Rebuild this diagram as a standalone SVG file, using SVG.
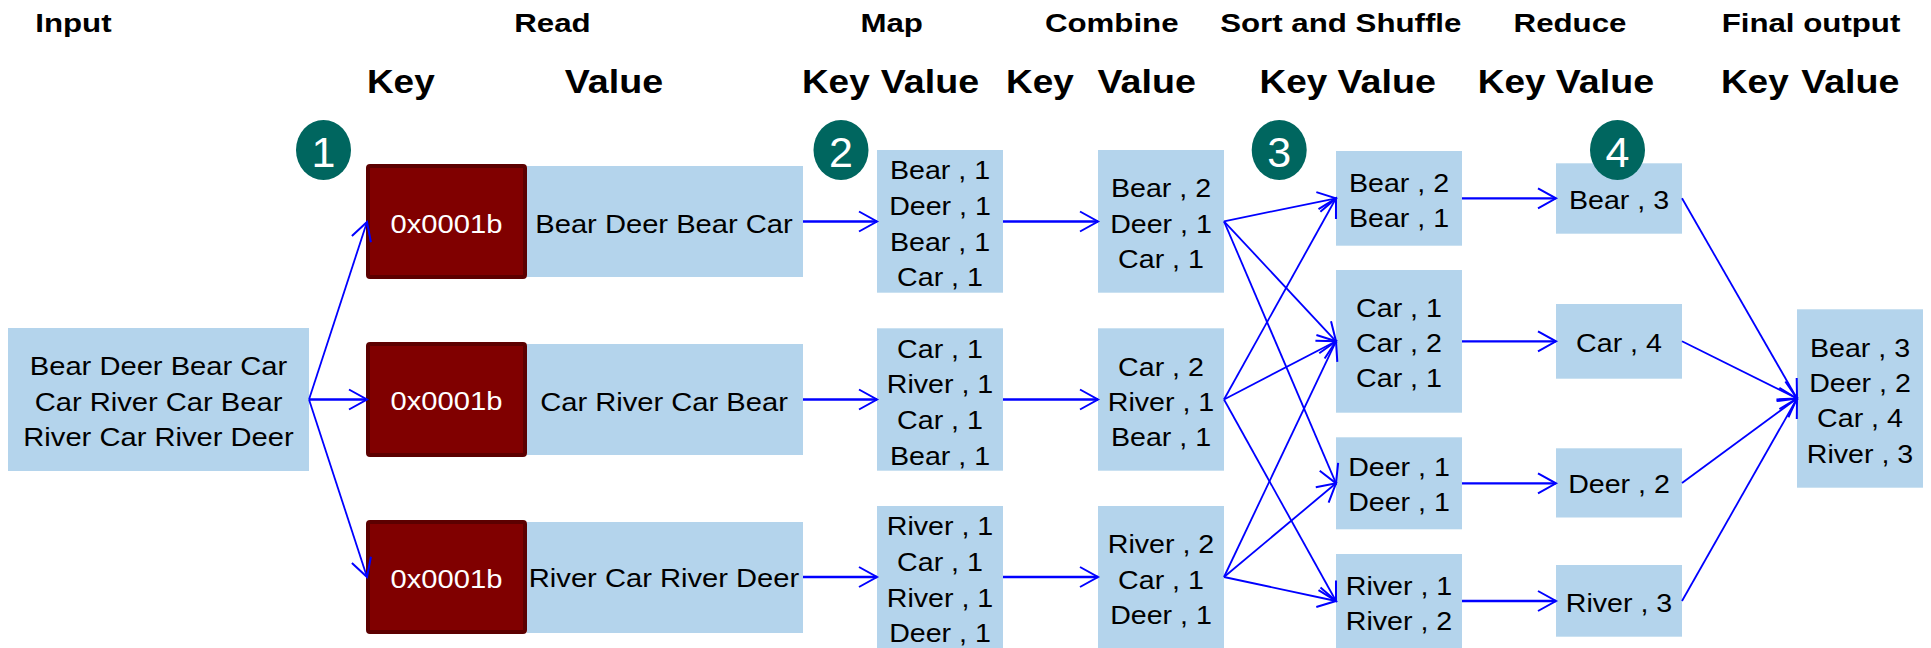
<svg xmlns="http://www.w3.org/2000/svg" width="1931" height="648" viewBox="0 0 1931 648">
<style>
.h1{font-family:'Liberation Sans',Arial,sans-serif;font-weight:bold;font-size:25px;text-anchor:middle;fill:#000}
.h2{font-family:'Liberation Sans',Arial,sans-serif;font-weight:bold;font-size:33px;text-anchor:middle;fill:#000}
.t{font-family:'Liberation Sans',Arial,sans-serif;font-size:26px;text-anchor:middle;fill:#000}
.tv{font-family:'Liberation Sans',Arial,sans-serif;font-size:26.5px;text-anchor:middle;fill:#000}
.k{font-family:'Liberation Sans',Arial,sans-serif;font-size:26.5px;text-anchor:middle;fill:#fff}
.n{font-family:'Liberation Sans',Arial,sans-serif;font-size:43px;text-anchor:middle;fill:#fff}
.box{fill:#b4d4ec}
.key{fill:#800000;stroke:#5c0000;stroke-width:4}
.circ{fill:#00665f}
.c{stroke:#0000ff;stroke-width:1.8;fill:none;marker-end:url(#ah)}
.ch{stroke:#0000ff;stroke-width:2.3;fill:none;marker-end:url(#ah)}
</style>
<defs>
<marker id="ah" markerUnits="userSpaceOnUse" markerWidth="24" markerHeight="24" viewBox="-20 -12 24 24" refX="0" refY="0" orient="auto" overflow="visible">
<path d="M-18,-10 L0,0 L-18,10" fill="none" stroke="#0000ff" stroke-width="2"/>
</marker>
</defs>
<rect width="1931" height="648" fill="#fff"/>

<g id="headers">
<g transform="translate(73.4 0) scale(1.25 1)"><text class="h1" x="0" y="32.3">Input</text></g>
<g transform="translate(552.5 0) scale(1.25 1)"><text class="h1" x="0" y="32.3">Read</text></g>
<g transform="translate(891.7 0) scale(1.25 1)"><text class="h1" x="0" y="32.3">Map</text></g>
<g transform="translate(1111.7 0) scale(1.25 1)"><text class="h1" x="0" y="32.3">Combine</text></g>
<g transform="translate(1340.8 0) scale(1.25 1)"><text class="h1" x="0" y="32.3">Sort and Shuffle</text></g>
<g transform="translate(1570 0) scale(1.25 1)"><text class="h1" x="0" y="32.3">Reduce</text></g>
<g transform="translate(1811 0) scale(1.25 1)"><text class="h1" x="0" y="32.3">Final output</text></g>

<g transform="translate(400.8 0) scale(1.12 1)"><text class="h2" x="0" y="93.3">Key</text></g>
<g transform="translate(614 0) scale(1.14 1)"><text class="h2" x="0" y="93.3">Value</text></g>
<g transform="translate(835.8 0) scale(1.12 1)"><text class="h2" x="0" y="93.3">Key</text></g>
<g transform="translate(930 0) scale(1.14 1)"><text class="h2" x="0" y="93.3">Value</text></g>
<g transform="translate(1040 0) scale(1.12 1)"><text class="h2" x="0" y="93.3">Key</text></g>
<g transform="translate(1146.7 0) scale(1.14 1)"><text class="h2" x="0" y="93.3">Value</text></g>
<g transform="translate(1293.5 0) scale(1.12 1)"><text class="h2" x="0" y="93.3">Key</text></g>
<g transform="translate(1386.7 0) scale(1.14 1)"><text class="h2" x="0" y="93.3">Value</text></g>
<g transform="translate(1511.7 0) scale(1.12 1)"><text class="h2" x="0" y="93.3">Key</text></g>
<g transform="translate(1605 0) scale(1.14 1)"><text class="h2" x="0" y="93.3">Value</text></g>
<g transform="translate(1754.8 0) scale(1.12 1)"><text class="h2" x="0" y="93.3">Key</text></g>
<g transform="translate(1850.3 0) scale(1.14 1)"><text class="h2" x="0" y="93.3">Value</text></g>
</g>

<g id="input">
<rect class="box" x="8" y="328" width="301" height="143"/>
<g transform="translate(158.5 0) scale(1.1 1)">
<text class="tv" x="0" y="375">Bear Deer Bear Car</text>
<text class="tv" x="0" y="410.7">Car River Car Bear</text>
<text class="tv" x="0" y="446">River Car River Deer</text>
</g>
</g>

<g id="read-key-1"><rect class="key" x="368" y="166" width="157" height="111" rx="2"/><g transform="translate(446.5 0) scale(1.1 1)"><text class="k" x="0" y="232.7">0x0001b</text></g></g>
<g id="read-key-2"><rect class="key" x="368" y="344" width="157" height="111" rx="2"/><g transform="translate(446.5 0) scale(1.1 1)"><text class="k" x="0" y="410.2">0x0001b</text></g></g>
<g id="read-key-3"><rect class="key" x="368" y="522" width="157" height="110" rx="2"/><g transform="translate(446.5 0) scale(1.1 1)"><text class="k" x="0" y="588">0x0001b</text></g></g>

<g id="read-value-1"><rect class="box" x="527" y="166" width="276" height="111"/><g transform="translate(664 0) scale(1.1 1)"><text class="tv" x="0" y="232.7">Bear Deer Bear Car</text></g></g>
<g id="read-value-2"><rect class="box" x="527" y="344" width="276" height="111"/><g transform="translate(664 0) scale(1.1 1)"><text class="tv" x="0" y="410.7">Car River Car Bear</text></g></g>
<g id="read-value-3"><rect class="box" x="527" y="522" width="276" height="111"/><g transform="translate(664 0) scale(1.1 1)"><text class="tv" x="0" y="587.3">River Car River Deer</text></g></g>

<g id="map-1"><rect class="box" x="877" y="150" width="126" height="142.7"/><g transform="translate(940 0) scale(1.1 1)">
<text class="t" x="0" y="179.3">Bear , 1</text><text class="t" x="0" y="215">Deer , 1</text><text class="t" x="0" y="250.7">Bear , 1</text><text class="t" x="0" y="286.3">Car , 1</text></g></g>
<g id="map-2"><rect class="box" x="877" y="328.3" width="126" height="142.4"/><g transform="translate(940 0) scale(1.1 1)">
<text class="t" x="0" y="357.6">Car , 1</text><text class="t" x="0" y="393.3">River , 1</text><text class="t" x="0" y="429">Car , 1</text><text class="t" x="0" y="464.6">Bear , 1</text></g></g>
<g id="map-3"><rect class="box" x="877" y="506" width="126" height="142"/><g transform="translate(940 0) scale(1.1 1)">
<text class="t" x="0" y="535.3">River , 1</text><text class="t" x="0" y="571">Car , 1</text><text class="t" x="0" y="606.7">River , 1</text><text class="t" x="0" y="642.3">Deer , 1</text></g></g>

<g id="combine-1"><rect class="box" x="1098" y="150" width="126" height="142.7"/><g transform="translate(1161 0) scale(1.1 1)">
<text class="t" x="0" y="197.3">Bear , 2</text><text class="t" x="0" y="232.7">Deer , 1</text><text class="t" x="0" y="268">Car , 1</text></g></g>
<g id="combine-2"><rect class="box" x="1098" y="328.3" width="126" height="142.4"/><g transform="translate(1161 0) scale(1.1 1)">
<text class="t" x="0" y="375.6">Car , 2</text><text class="t" x="0" y="411">River , 1</text><text class="t" x="0" y="446.3">Bear , 1</text></g></g>
<g id="combine-3"><rect class="box" x="1098" y="506" width="126" height="142"/><g transform="translate(1161 0) scale(1.1 1)">
<text class="t" x="0" y="553.3">River , 2</text><text class="t" x="0" y="588.7">Car , 1</text><text class="t" x="0" y="624">Deer , 1</text></g></g>

<g id="shuffle-1"><rect class="box" x="1336" y="151" width="126" height="94.7"/><g transform="translate(1399 0) scale(1.1 1)">
<text class="t" x="0" y="191.7">Bear , 2</text><text class="t" x="0" y="226.7">Bear , 1</text></g></g>
<g id="shuffle-2"><rect class="box" x="1336" y="270" width="126" height="142.7"/><g transform="translate(1399 0) scale(1.1 1)">
<text class="t" x="0" y="316.7">Car , 1</text><text class="t" x="0" y="351.7">Car , 2</text><text class="t" x="0" y="386.7">Car , 1</text></g></g>
<g id="shuffle-3"><rect class="box" x="1336" y="437.3" width="126" height="92"/><g transform="translate(1399 0) scale(1.1 1)">
<text class="t" x="0" y="476.5">Deer , 1</text><text class="t" x="0" y="511.5">Deer , 1</text></g></g>
<g id="shuffle-4"><rect class="box" x="1336" y="554" width="126" height="94"/><g transform="translate(1399 0) scale(1.1 1)">
<text class="t" x="0" y="595">River , 1</text><text class="t" x="0" y="630">River , 2</text></g></g>

<g id="reduce-1"><rect class="box" x="1556" y="163.3" width="126" height="70.4"/><g transform="translate(1619 0) scale(1.1 1)"><text class="t" x="0" y="208.7">Bear , 3</text></g></g>
<g id="reduce-2"><rect class="box" x="1556" y="304" width="126" height="74.7"/><g transform="translate(1619 0) scale(1.1 1)"><text class="t" x="0" y="351.7">Car , 4</text></g></g>
<g id="reduce-3"><rect class="box" x="1556" y="448.3" width="126" height="69.2"/><g transform="translate(1619 0) scale(1.1 1)"><text class="t" x="0" y="492.8">Deer , 2</text></g></g>
<g id="reduce-4"><rect class="box" x="1556" y="565" width="126" height="71.7"/><g transform="translate(1619 0) scale(1.1 1)"><text class="t" x="0" y="611.7">River , 3</text></g></g>

<g id="final"><rect class="box" x="1797" y="309.3" width="126" height="178.4"/><g transform="translate(1860 0) scale(1.1 1)">
<text class="t" x="0" y="356.7">Bear , 3</text><text class="t" x="0" y="391.7">Deer , 2</text><text class="t" x="0" y="427.3">Car , 4</text><text class="t" x="0" y="462.7">River , 3</text></g></g>

<g id="connectors">
<path class="c" d="M309,399.5 L367,222"/>
<path class="ch" d="M309,399.5 L367,399.5"/>
<path class="c" d="M309,399.5 L367,577"/>
<path class="ch" d="M803,221.5 L877,221.5"/>
<path class="ch" d="M803,399.5 L877,399.5"/>
<path class="ch" d="M803,577 L877,577"/>
<path class="ch" d="M1003,221.5 L1098,221.5"/>
<path class="ch" d="M1003,399.5 L1098,399.5"/>
<path class="ch" d="M1003,577 L1098,577"/>
<path class="c" d="M1224,221.3 L1336,198.3"/>
<path class="c" d="M1224,221.3 L1336,341.3"/>
<path class="c" d="M1224,221.3 L1336,483.3"/>
<path class="c" d="M1224,399.5 L1336,198.3"/>
<path class="c" d="M1224,399.5 L1336,341.3"/>
<path class="c" d="M1224,399.5 L1336,601"/>
<path class="c" d="M1224,577 L1336,341.3"/>
<path class="c" d="M1224,577 L1336,483.3"/>
<path class="c" d="M1224,577 L1336,601"/>
<path class="ch" d="M1462,198.3 L1556,198.3"/>
<path class="ch" d="M1462,341.3 L1556,341.3"/>
<path class="ch" d="M1462,483.3 L1556,483.3"/>
<path class="ch" d="M1462,601 L1556,601"/>
<path class="c" d="M1682,198.3 L1797,398.5"/>
<path class="c" d="M1682,341.3 L1797,398.5"/>
<path class="c" d="M1682,483 L1797,398.5"/>
<path class="c" d="M1682,601 L1797,398.5"/>
</g>

<g id="step-1"><ellipse class="circ" cx="323.5" cy="150" rx="27.5" ry="30"/><text class="n" x="323.5" y="166.5">1</text></g>
<g id="step-2"><ellipse class="circ" cx="841" cy="150" rx="27.5" ry="30"/><text class="n" x="841" y="166.5">2</text></g>
<g id="step-3"><ellipse class="circ" cx="1279.2" cy="150" rx="27.5" ry="30"/><text class="n" x="1279.2" y="166.5">3</text></g>
<g id="step-4"><ellipse class="circ" cx="1617.5" cy="150" rx="27.5" ry="30"/><text class="n" x="1617.5" y="166.5">4</text></g>
</svg>
